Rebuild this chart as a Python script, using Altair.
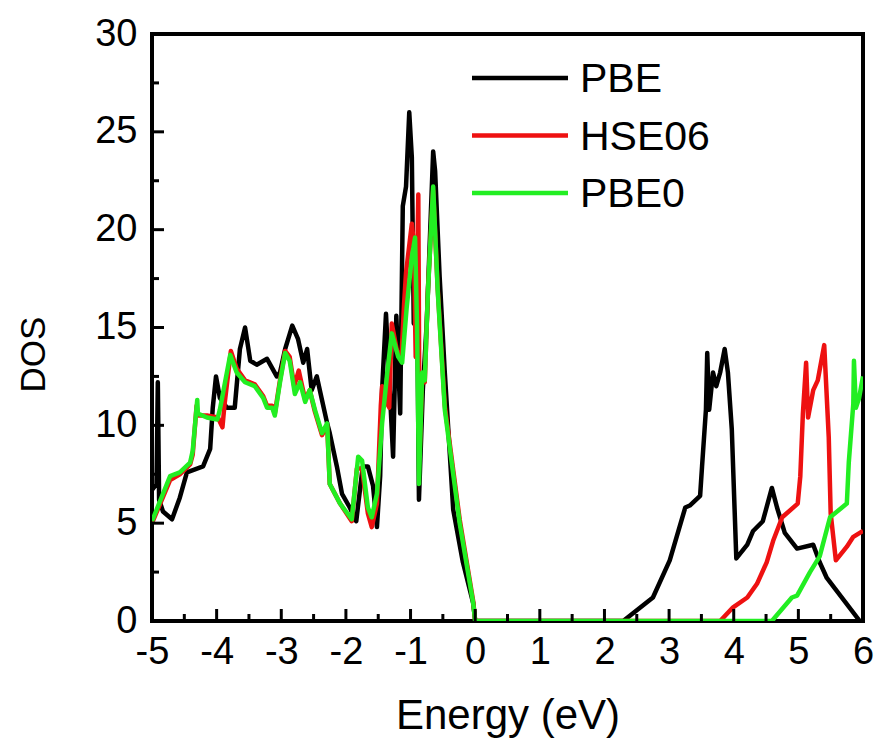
import altair as alt
import pandas as pd

series_names = ["PBE", "HSE06", "PBE0"]
series_colors = ["#000000", "#ee1111", "#22ee22"]

pbe_e = [-5.00, -4.93, -4.91, -4.89, -4.83, -4.69, -4.57, -4.46, -4.21, -4.10, -4.06, -4.01, -3.95, -3.84,
         -3.72, -3.64, -3.56, -3.48, -3.38, -3.22, -3.07, -3.02, -2.94, -2.83, -2.74, -2.66, -2.60, -2.53,
         -2.45, -2.37, -2.29, -2.25, -2.14, -2.06, -1.94, -1.84, -1.74, -1.66, -1.58, -1.52, -1.47, -1.44,
         -1.38, -1.27, -1.22, -1.16, -1.12, -1.07, -1.02, -0.98, -0.95, -0.90, -0.87, -0.81, -0.75, -0.65,
         -0.62, -0.55, -0.47, -0.34, -0.19, -0.03, 0.00, 2.29, 2.75, 3.01, 3.25, 3.32, 3.48, 3.51, 3.57,
         3.59, 3.62, 3.68, 3.73, 3.79, 3.86, 3.91, 3.97, 4.04, 4.21, 4.30, 4.45, 4.59, 4.67, 4.79, 4.98,
         5.23, 5.33, 5.44, 5.95]
pbe_dos = [6.7, 7.0, 12.2, 6.2, 5.6, 5.2, 6.3, 7.6, 7.9, 8.8, 10.9, 12.5, 11.4, 10.9,
           10.9, 13.9, 15.0, 13.3, 13.1, 13.4, 12.5, 12.7, 13.9, 15.1, 14.4, 13.2, 13.9, 11.8,
           12.5, 11.3, 10.1, 9.6, 7.9, 6.5, 5.8, 5.1, 7.9, 7.9, 6.9, 4.8, 7.4, 11.8,
           15.7, 8.4, 15.6, 10.6, 21.2, 22.2, 26.0, 23.7, 15.2, 16.9, 6.2, 11.8, 15.2, 24.0,
           23.0, 17.6, 12.7, 5.7, 3.0, 0.9, 0.0, 0.0, 1.2, 3.1, 5.8, 5.9, 6.4, 7.9, 10.8,
           13.7, 10.8, 12.7, 12.0, 12.7, 13.9, 12.7, 9.8, 3.2, 3.9, 4.6, 5.1, 6.8, 5.8, 4.5, 3.7,
           3.9, 3.0, 2.2, 0.0]

hse_e = [-5.00, -4.72, -4.57, -4.41, -4.37, -4.31, -4.29, -4.15, -3.98, -3.91, -3.88, -3.78, -3.69,
         -3.56, -3.41, -3.28, -3.22, -3.14, -3.10, -3.02, -2.94, -2.87, -2.80, -2.73, -2.63, -2.56,
         -2.48, -2.37, -2.29, -2.25, -2.09, -1.91, -1.83, -1.75, -1.66, -1.60, -1.52, -1.46, -1.44,
         -1.40, -1.36, -1.33, -1.29, -1.21, -1.14, -1.10, -1.07, -0.98, -0.95, -0.92, -0.88, -0.86,
         -0.82, -0.78, -0.73, -0.65, -0.58, -0.47, -0.24, -0.03, 0.00, 3.79, 3.99, 4.21, 4.36, 4.51,
         4.61, 4.75, 4.99, 5.03, 5.07, 5.12, 5.15, 5.23, 5.30, 5.40, 5.47, 5.50, 5.58, 5.75, 5.85, 6.00]
hse_dos = [5.0, 7.2, 7.5, 8.0, 8.5, 11.0, 10.5, 10.5, 10.4, 9.9, 11.0, 13.8, 12.9,
           12.3, 12.1, 11.5, 11.0, 11.0, 10.6, 12.3, 13.8, 13.5, 12.0, 12.8, 11.3, 11.8,
           10.7, 9.5, 10.0, 7.0, 6.0, 5.1, 7.8, 7.8, 5.5, 4.8, 6.0, 11.0, 12.0,
           11.0, 12.5, 10.9, 15.2, 13.8, 13.5, 16.2, 17.8, 20.3, 19.3, 13.5, 21.8, 8.5,
           12.5, 12.2, 17.0, 22.0, 17.0, 11.0, 5.2, 1.0, 0.0, 0.0, 0.7, 1.2, 1.9, 3.0,
           4.1, 5.3, 6.0, 7.4, 10.6, 13.2, 10.4, 11.8, 12.3, 14.1, 9.4, 5.5, 3.1, 3.8, 4.3, 4.6]

pbe0_e = [-5.00, -4.72, -4.57, -4.41, -4.37, -4.30, -4.29, -4.15, -3.99, -3.95, -3.79, -3.69, -3.56,
          -3.41, -3.28, -3.22, -3.14, -3.10, -3.02, -2.94, -2.87, -2.79, -2.71, -2.63, -2.56, -2.48,
          -2.37, -2.29, -2.25, -2.09, -1.91, -1.81, -1.75, -1.66, -1.60, -1.52, -1.44, -1.40, -1.36,
          -1.29, -1.19, -1.13, -1.06, -0.98, -0.93, -0.90, -0.87, -0.82, -0.78, -0.73, -0.65, -0.58,
          -0.47, -0.24, -0.03, 0.00, 4.59, 4.90, 4.98, 5.18, 5.33, 5.49, 5.75, 5.78, 5.85, 5.86, 5.89,
          5.94, 6.00]
pbe0_dos = [5.1, 7.4, 7.6, 8.1, 8.7, 11.3, 10.6, 10.4, 10.3, 10.8, 13.6, 12.7, 12.2,
            12.0, 11.4, 10.9, 10.9, 10.5, 12.2, 13.7, 13.3, 11.6, 12.2, 11.2, 11.8, 10.8,
            9.6, 10.1, 7.0, 6.0, 5.2, 8.4, 8.2, 5.8, 5.3, 6.5, 10.1, 11.4, 12.7,
            14.7, 13.5, 13.2, 16.0, 18.6, 19.6, 15.2, 7.0, 12.7, 12.3, 16.9, 22.2, 16.9,
            10.8, 5.0, 0.9, 0.0, 0.0, 1.2, 1.3, 2.5, 3.3, 5.3, 6.0, 8.1, 11.1, 13.3, 10.9,
            11.4, 12.5]

x_ticks = [-5, -4, -3, -2, -1, 0, 1, 2, 3, 4, 5, 6]
x_minor = [-4.5, -3.5, -2.5, -1.5, -0.5, 0.5, 1.5, 2.5, 3.5, 4.5, 5.5]
y_ticks = [0, 5, 10, 15, 20, 25, 30]
y_minor = [2.5, 7.5, 12.5, 17.5, 22.5, 27.5]

FONT = "Liberation Sans"
W, H = 711, 587
LW = 4.5
X0, X1, Y0, Y1 = -5, 6, 0, 30

xscale = alt.Scale(domain=[X0, X1], nice=False, zero=False)
yscale = alt.Scale(domain=[Y0, Y1], nice=False)

xaxis = alt.Axis(values=x_ticks, labelExpr="'' + datum.value", tickSize=0, labelFlush=False,
                 domain=False, grid=False, labelFontSize=38, labelPadding=12,
                 titleFontSize=42, titlePadding=24, labelFont=FONT, titleFont=FONT,
                 titleFontWeight="normal", labelColor="black", titleColor="black")
yaxis = alt.Axis(values=y_ticks, labelExpr="'' + datum.value", tickSize=0, labelFlush=False,
                 domain=False, grid=False, labelFontSize=38, labelPadding=15,
                 titleFontSize=35, titleX=-119, titleY=320, titleBaseline="middle",
                 titleAlign="center", labelFont=FONT, titleFont=FONT,
                 titleFontWeight="normal", labelColor="black", titleColor="black")


def X(field):
    return alt.X(field, scale=xscale, axis=xaxis, title="Energy (eV)")


def Y(field):
    return alt.Y(field, scale=yscale, axis=yaxis, title="DOS")


def line_layer(es, ds, name, color):
    df = pd.DataFrame({"E": es, "DOS": ds, "i": list(range(len(es))), "series": name})
    return alt.Chart(df).mark_line(color=color, strokeWidth=LW, clip=True, strokeJoin="round").encode(
        x=X("E:Q"), y=Y("DOS:Q"), order="i:Q")


layers = [
    line_layer(pbe_e, pbe_dos, series_names[0], series_colors[0]),
    line_layer(hse_e, hse_dos, series_names[1], series_colors[1]),
    line_layer(pbe0_e, pbe0_dos, series_names[2], series_colors[2]),
]

# inward tick marks as segments (lengths in pixels converted to data units)
MAJ, MIN = 12, 7
ty = (Y1 - Y0) / H   # data units per pixel (y)
tx = (X1 - X0) / W   # data units per pixel (x)
rows = []
for v in x_ticks:
    rows.append({"ta": v, "tb": v, "tc": Y0, "td": Y0 + MAJ * ty})
for v in x_minor:
    rows.append({"ta": v, "tb": v, "tc": Y0, "td": Y0 + MIN * ty})
for v in y_ticks:
    rows.append({"ta": X0, "tb": X0 + MAJ * tx, "tc": v, "td": v})
for v in y_minor:
    rows.append({"ta": X0, "tb": X0 + MIN * tx, "tc": v, "td": v})
tick_df = pd.DataFrame(rows)
layers.append(alt.Chart(tick_df).mark_rule(color="black", strokeWidth=3).encode(
    x=X("ta:Q"), x2=alt.X2("tb"), y=Y("tc:Q"), y2=alt.Y2("td")))

# legend (inside plot, top right)
for k, (name, color) in enumerate(zip(series_names, series_colors)):
    ly = 44 + 57.5 * k
    one = pd.DataFrame({"name": [name]})
    layers.append(alt.Chart(one).mark_rule(strokeWidth=LW, color=color).encode(
        x=alt.value(320), x2=alt.value(416), y=alt.value(ly)))
    layers.append(alt.Chart(one).mark_text(align="left", baseline="middle", fontSize=41, font=FONT,
                                           color="black", dy=2).encode(
        x=alt.value(428), y=alt.value(ly), text="name:N"))

chart = alt.layer(*layers).properties(
    width=W, height=H,
    autosize=alt.AutoSizeParams(type="none"),
    padding={"left": 152, "top": 34, "right": 17, "bottom": 123},
    background="white",
).configure_view(stroke="black", strokeWidth=4)

chart.save("out.html", embed_options={"renderer": "svg", "actions": False})
